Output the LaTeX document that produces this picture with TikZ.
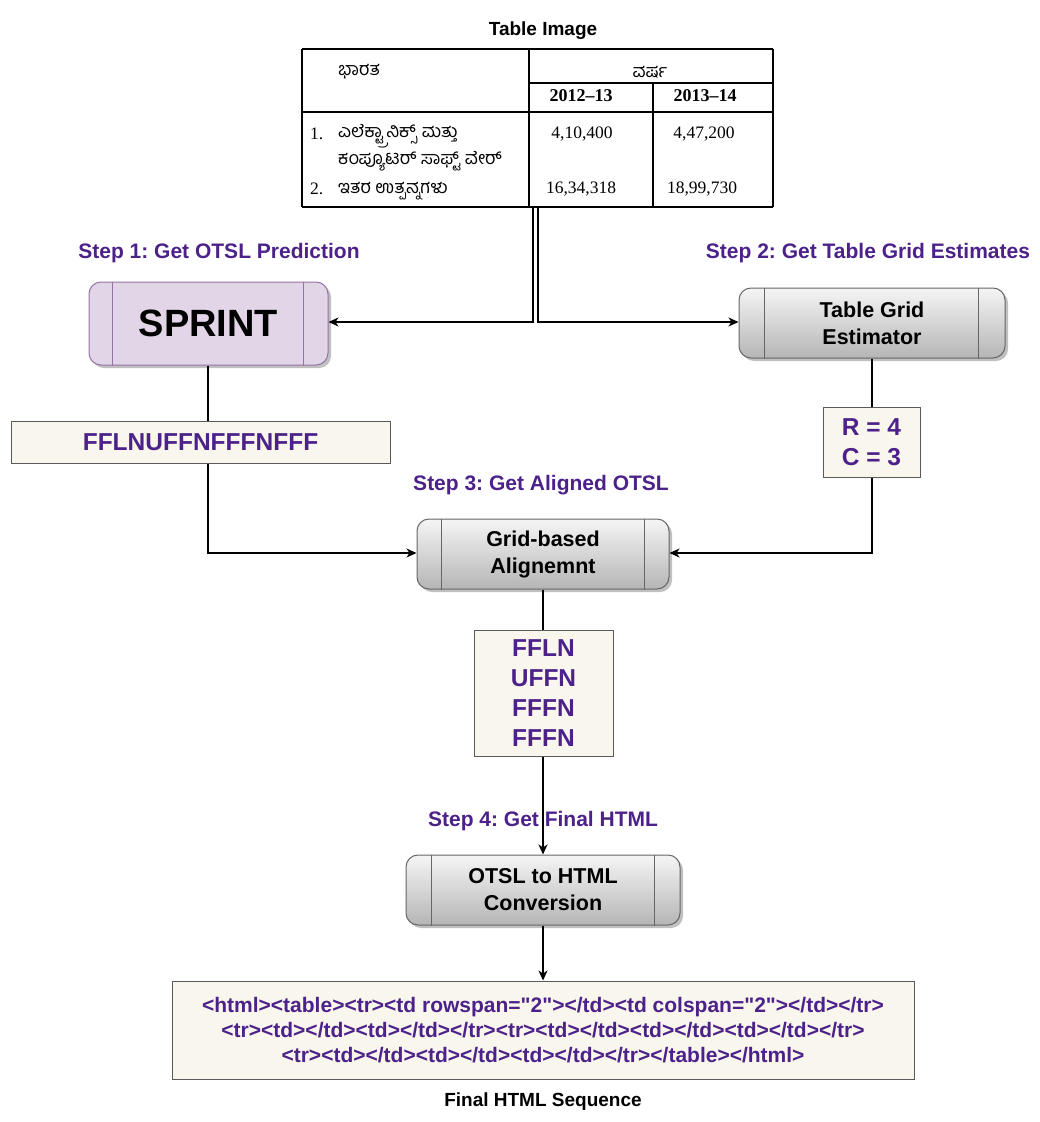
\documentclass[tikz,border=0pt]{standalone}
\usepackage{fontspec}
\setmainfont{Liberation Sans}
\newfontfamily\kn[Script=Kannada]{Hind Mysuru}
\newfontfamily\tnr{Liberation Serif}
\newfontfamily\htmlfont{Liberation Sans}
\usetikzlibrary{arrows.meta,shadows}
\definecolor{ptxt}{HTML}{4C228A}
\definecolor{lavfill}{HTML}{E1D5E7}
\definecolor{lavline}{HTML}{9673A6}
\definecolor{cream}{HTML}{F9F7ED}
\definecolor{boxline}{HTML}{5A5A5A}
\definecolor{gtop}{HTML}{F5F5F5}
\definecolor{gbot}{HTML}{B5B5B5}
\definecolor{procgrey}{HTML}{666666}
\frenchspacing
\tikzset{
  myshadow/.style={drop shadow={shadow xshift=3pt,shadow yshift=-3pt,fill=black!35,opacity=0.7}},
  proc/.style={draw=procgrey, line width=1pt, rounded corners=12pt, top color=gtop, bottom color=gbot,
    minimum height=70pt, myshadow, font=\bfseries\fontsize{21.5}{27}\selectfont, align=center, inner sep=0pt},
  procline/.style={draw=procgrey, line width=1pt},
  lavline/.style={draw=lavline, line width=1pt},
  outbox/.style={draw=boxline, line width=1pt, fill=cream, text=ptxt, font=\bfseries\fontsize{24.5}{30}\selectfont, align=center, inner sep=0pt},
  steplabel/.style={text=ptxt, font=\bfseries\fontsize{21}{25}\selectfont, inner sep=0pt},
  title/.style={font=\bfseries\fontsize{19}{23}\selectfont, inner sep=0pt},
  conn/.style={draw=black, line width=1.2pt},
  arr/.style={conn, -{Stealth[length=10pt,width=9pt,inset=3pt]}},
  tline/.style={draw=black, line width=1.4pt},
  kntxt/.style={font=\kn\fontsize{18}{20}\selectfont, inner sep=0pt, anchor=west},
  numtxt/.style={font=\tnr\fontsize{17.5}{20}\selectfont, inner sep=0pt},
  hdrtxt/.style={font=\tnr\bfseries\fontsize{18}{20}\selectfont, inner sep=0pt},
}
\begin{document}
\begin{tikzpicture}[x=1pt,y=-1pt]
\fill[white] (0,0) rectangle (1040,1122);
\useasboundingbox (0,0) rectangle (1040,1122);

% ---- Table image ----
\node[title] (tabtitle) at (543,31) {Table Image};
\draw[tline] (302,49) -- (773,49);
\draw[tline] (529,83) -- (773,83);
\draw[tline] (302,112) -- (773,112);
\draw[tline] (302,207) -- (773,207);
\draw[tline] (302,49) -- (302,207);
\draw[tline] (529,49) -- (529,207);
\draw[tline] (653,83) -- (653,207);
\draw[tline] (773,49) -- (773,207);
\node[kntxt] (c11) at (338,72) {ಭಾರತ};
\node[font=\kn\fontsize{18}{20}\selectfont, inner sep=0pt] (c12) at (650,72) {ವರ್ಷ};
\node[hdrtxt] (h1) at (581,96) {2012–13};
\node[hdrtxt] (h2) at (705,96) {2013–14};
\node[numtxt, anchor=west] (n1) at (310,134) {1.};
\node[kntxt] (r1a) at (338,136) {ಎಲೆಕ್ಟ್ರಾನಿಕ್ಸ್ ಮತ್ತು};
\node[kntxt] (r1b) at (338,161) {ಕಂಪ್ಯೂಟರ್ ಸಾಫ್ಟ್ ವೇರ್};
\node[numtxt] (v11) at (582,134) {4,10,400};
\node[numtxt] (v12) at (704,134) {4,47,200};
\node[numtxt, anchor=west] (n2) at (310,189) {2.};
\node[kntxt] (r2) at (338,191) {ಇತರ ಉತ್ಪನ್ನಗಳು};
\node[numtxt] (v21) at (581,189) {16,34,318};
\node[numtxt] (v22) at (702,189) {18,99,730};
\coordinate (tabL) at (533,207);
\coordinate (tabR) at (538,207);

% ---- Step labels ----
\node[steplabel] (step1) at (219,253) {Step 1: Get OTSL Prediction};
\node[steplabel] (step2) at (868,253) {Step 2: Get Table Grid Estimates};
\node[steplabel] (step3) at (541,485) {Step 3: Get Aligned OTSL};
\node[steplabel] (step4) at (543,821) {Step 4: Get Final HTML};

% ---- SPRINT ----
\node[draw=lavline, line width=1pt, rounded corners=12pt, fill=lavfill, myshadow,
      minimum width=239pt, minimum height=83pt, inner sep=0pt,
      font=\bfseries\fontsize{38}{44}\selectfont] (sprint) at (208.5,323.5) {SPRINT};
\draw[lavline] ([xshift=24pt]sprint.north west) -- ([xshift=24pt]sprint.south west);
\draw[lavline] ([xshift=-25pt]sprint.north east) -- ([xshift=-25pt]sprint.south east);

% ---- Table Grid Estimator ----
\node[proc, minimum width=266pt] (tge) at (872,323) {Table Grid\\Estimator};
\draw[procline] ([xshift=26pt]tge.north west) -- ([xshift=26pt]tge.south west);
\draw[procline] ([xshift=-27pt]tge.north east) -- ([xshift=-27pt]tge.south east);

% ---- Outputs ----
\node[outbox, minimum width=379pt, minimum height=42pt] (fl) at (200.5,442) {FFLNUFFNFFFNFFF};
\node[outbox, minimum width=97pt, minimum height=70pt] (rc) at (871.5,442) {R = 4\\C = 3};

% ---- Grid-based Alignment ----
\node[proc, minimum width=252pt] (ga) at (543,554) {Grid-based\\Alignemnt};
\draw[procline] ([xshift=25pt]ga.north west) -- ([xshift=25pt]ga.south west);
\draw[procline] ([xshift=-25pt]ga.north east) -- ([xshift=-25pt]ga.south east);

\node[outbox, minimum width=139pt, minimum height=126pt] (ffln) at (543.5,693) {FFLN\\UFFN\\FFFN\\FFFN};

% ---- Conversion ----
\node[proc, minimum width=274pt] (conv) at (543,890) {OTSL to HTML\\Conversion};
\draw[procline] ([xshift=26pt]conv.north west) -- ([xshift=26pt]conv.south west);
\draw[procline] ([xshift=-26pt]conv.north east) -- ([xshift=-26pt]conv.south east);

% ---- HTML ----
\node[draw=boxline, line width=1pt, fill=cream, text=ptxt, align=center, inner sep=0pt,
      minimum width=742pt, minimum height=98pt,
      font=\htmlfont\bfseries\fontsize{21}{25}\selectfont] (html) at (543,1030)
  {<html><table><tr><td rowspan="2"></td><td colspan="2"></td></tr>\\
   <tr><td></td><td></td></tr><tr><td></td><td></td><td></td></tr>\\
   <tr><td></td><td></td><td></td></tr></table></html>};
\node[title] (final) at (543,1102) {Final HTML Sequence};

% ---- Connectors ----
\coordinate (jl) at (533,322);
\coordinate (jr) at (538,322);
\draw[arr] (tabL) -- (jl) -- (sprint.east |- jl);
\draw[arr] (tabR) -- (jr) -- (tge.west |- jr);
\draw[conn] (sprint.south -| 208,0) -- (fl.north -| 208,0);
\coordinate (flb) at (208,553);
\draw[arr] (fl.south -| 208,0) -- (flb) -- (ga.west |- flb);
\draw[conn] (tge.south) -- (tge.south |- rc.north);
\coordinate (rcb) at (872,553);
\draw[arr] (rc.south -| 872,0) -- (rcb) -- (ga.east |- rcb);
\draw[conn] (ga.south) -- (ga.south |- ffln.north);
\draw[arr] (ffln.south -| 543,0) -- (conv.north);
\draw[arr] (conv.south) -- (html.north);
\end{tikzpicture}
\end{document}
